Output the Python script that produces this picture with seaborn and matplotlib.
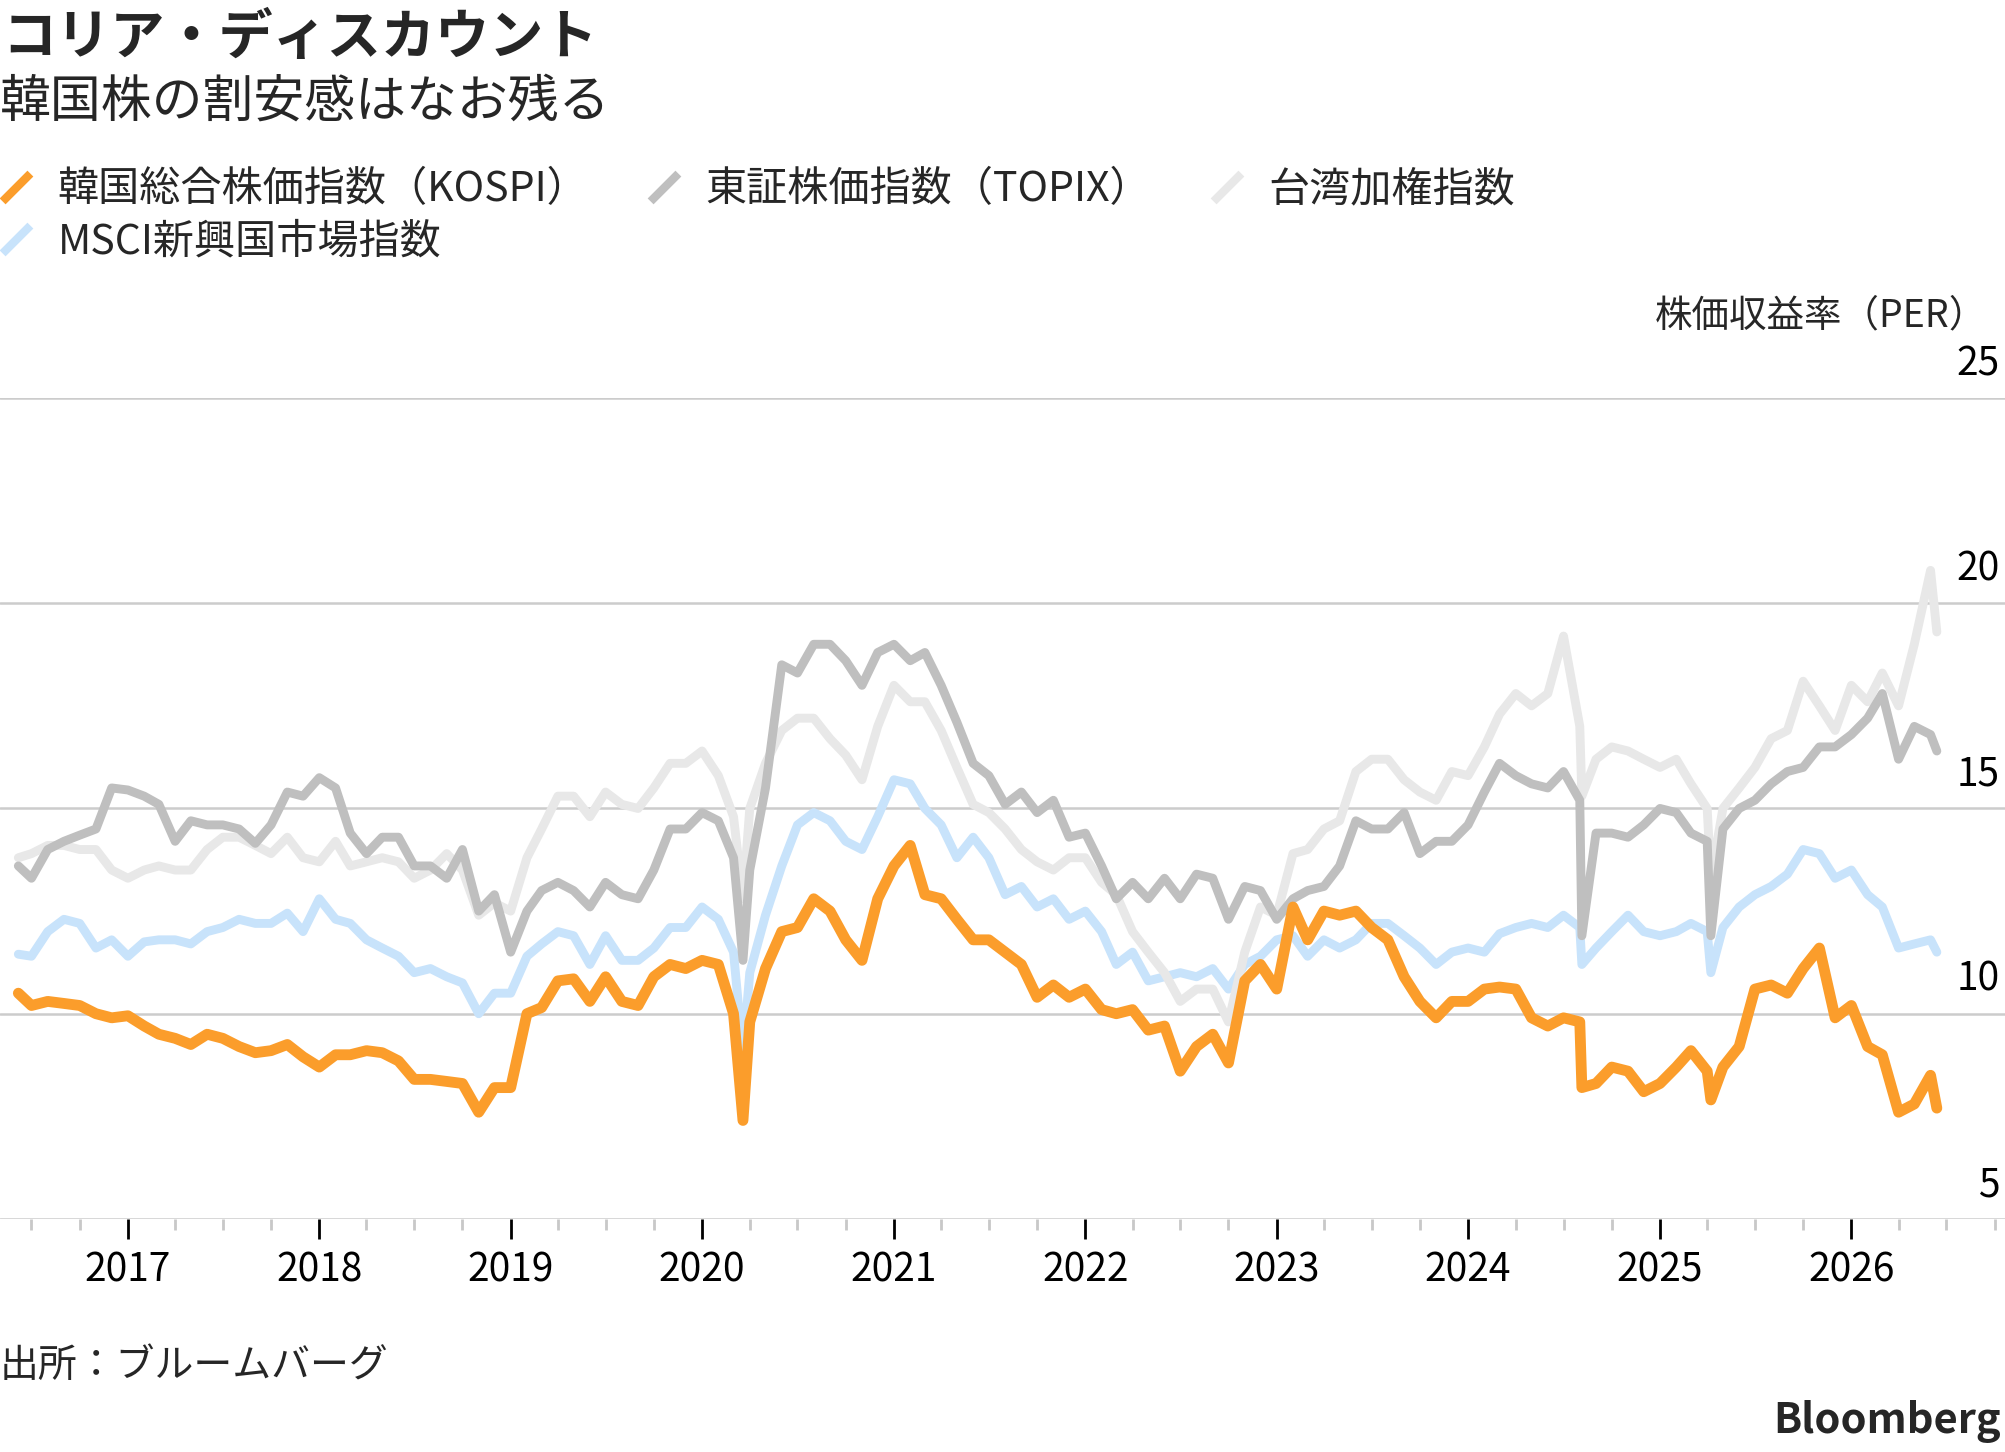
import numpy as np
import pandas as pd
import matplotlib.pyplot as plt
import matplotlib.dates as mdates
import seaborn as sns
from matplotlib.lines import Line2D
from matplotlib.path import Path
from matplotlib.transforms import ScaledTranslation

# Monthly PER readings (first of each month, Jul 2016 - Jun 2026)
months = pd.date_range("2016-07-01", "2026-06-01", freq="MS")

kospi = [
    10.2, 10.3, 10.25, 10.2, 10.0, 9.9,
    9.95, 9.7, 9.5, 9.4, 9.25, 9.5, 9.4, 9.2, 9.05, 9.1, 9.25, 8.95,
    8.7, 9.0, 9.0, 9.1, 9.05, 8.85, 8.4, 8.4, 8.35, 8.3, 7.6, 8.2,
    8.2, 10.0, 10.15, 10.8, 10.85, 10.3, 10.9, 10.3, 10.2, 10.9, 11.2, 11.1,
    11.3, 11.2, 10.0, 9.8, 11.1, 12.0, 12.1, 12.8, 12.5, 11.8, 11.3, 12.8,
    13.6, 14.1, 12.9, 12.8, 12.3, 11.8, 11.8, 11.5, 11.2, 10.4, 10.7, 10.4,
    10.6, 10.1, 10.0, 10.1, 9.6, 9.7, 8.6, 9.2, 9.5, 8.8, 10.8, 11.2,
    10.6, 12.6, 11.8, 12.5, 12.4, 12.5, 12.1, 11.8, 10.9, 10.3, 9.9, 10.3,
    10.3, 10.6, 10.65, 10.6, 9.9, 9.7, 9.9, 9.8, 8.3, 8.7, 8.6, 8.1,
    8.3, 8.7, 9.1, 8.6, 8.7, 9.2, 10.6, 10.7, 10.5, 11.1, 11.6, 9.9,
    10.2, 9.2, 9.0, 7.6, 7.8, 8.5,
]
topix = [
    13.3, 14.0, 14.2, 14.35, 14.5, 15.5,
    15.45, 15.3, 15.1, 14.2, 14.7, 14.6, 14.6, 14.5, 14.15, 14.6, 15.4, 15.3,
    15.75, 15.5, 14.4, 13.9, 14.3, 14.3, 13.6, 13.6, 13.3, 14.0, 12.5, 12.9,
    11.5, 12.5, 13.0, 13.2, 13.0, 12.6, 13.2, 12.9, 12.8, 13.5, 14.5, 14.5,
    14.9, 14.7, 13.8, 13.5, 15.5, 18.5, 18.3, 19.0, 19.0, 18.6, 18.0, 18.8,
    19.0, 18.6, 18.8, 18.0, 17.1, 16.1, 15.8, 15.1, 15.4, 14.9, 15.2, 14.3,
    14.4, 13.6, 12.8, 13.2, 12.8, 13.3, 12.8, 13.4, 13.3, 12.3, 13.1, 13.0,
    12.3, 12.8, 13.0, 13.1, 13.6, 14.7, 14.5, 14.5, 14.9, 13.9, 14.2, 14.2,
    14.6, 15.4, 16.1, 15.8, 15.6, 15.5, 15.9, 15.2, 14.4, 14.4, 14.3, 14.6,
    15.0, 14.9, 14.4, 14.2, 14.5, 15.0, 15.2, 15.6, 15.9, 16.0, 16.5, 16.5,
    16.8, 17.2, 17.8, 16.2, 17.0, 16.8,
]
taiex = [
    13.9, 14.1, 14.1, 14.0, 14.0, 13.5,
    13.3, 13.5, 13.6, 13.5, 13.5, 14.0, 14.3, 14.3, 14.1, 13.9, 14.3, 13.8,
    13.7, 14.2, 13.6, 13.7, 13.8, 13.7, 13.3, 13.5, 13.9, 13.5, 12.4, 12.7,
    12.5, 13.8, 14.5, 15.3, 15.3, 14.8, 15.4, 15.1, 15.0, 15.5, 16.1, 16.1,
    16.4, 15.8, 14.8, 15.0, 16.1, 16.9, 17.2, 17.2, 16.7, 16.3, 15.7, 17.0,
    18.0, 17.6, 17.6, 16.9, 16.0, 15.1, 14.9, 14.5, 14.0, 13.7, 13.5, 13.8,
    13.8, 13.2, 12.9, 12.0, 11.5, 11.0, 10.3, 10.6, 10.6, 9.8, 11.5, 12.6,
    12.4, 13.9, 14.0, 14.5, 14.7, 15.9, 16.2, 16.2, 15.7, 15.4, 15.2, 15.9,
    15.8, 16.5, 17.3, 17.8, 17.5, 17.8, 19.2, 17.0, 16.2, 16.5, 16.4, 16.2,
    16.0, 16.2, 15.6, 15.0, 15.0, 15.5, 16.0, 16.7, 16.9, 18.1, 17.5, 16.9,
    18.0, 17.6, 18.3, 17.5, 19.0, 20.8,
]
msci = [
    11.4, 12.0, 12.3, 12.2, 11.6, 11.8,
    11.4, 11.75, 11.8, 11.8, 11.7, 12.0, 12.1, 12.3, 12.2, 12.2, 12.45, 12.0,
    12.8, 12.3, 12.2, 11.8, 11.6, 11.4, 11.0, 11.1, 10.9, 10.75, 10.0, 10.5,
    10.5, 11.4, 11.7, 12.0, 11.9, 11.2, 11.9, 11.3, 11.3, 11.6, 12.1, 12.1,
    12.6, 12.3, 11.5, 11.0, 12.4, 13.6, 14.6, 14.9, 14.7, 14.2, 14.0, 14.8,
    15.7, 15.6, 15.0, 14.6, 13.8, 14.3, 13.8, 12.9, 13.1, 12.6, 12.8, 12.3,
    12.5, 12.0, 11.2, 11.5, 10.8, 10.9, 11.0, 10.9, 11.1, 10.6, 11.2, 11.4,
    11.8, 11.9, 11.4, 11.8, 11.6, 11.8, 12.2, 12.2, 11.9, 11.6, 11.2, 11.5,
    11.6, 11.5, 11.95, 12.1, 12.2, 12.1, 12.4, 12.1, 11.6, 12.0, 12.4, 12.0,
    11.9, 12.0, 12.2, 12.0, 12.1, 12.6, 12.9, 13.1, 13.4, 14.0, 13.9, 13.3,
    13.5, 12.9, 12.6, 11.6, 11.7, 11.8,
]

# start/end points and the sharp sell-off days
extra_dates = ["2016-06-06", "2020-03-19", "2024-08-05", "2025-04-08", "2026-06-13"]
extra_kospi = [10.5, 7.4, 8.2, 7.9, 7.7]
extra_topix = [13.6, 11.3, 11.9, 11.9, 16.4]
extra_taiex = [13.8, 12.8, 15.3, 13.3, 19.3]
extra_msci = [11.45, 9.0, 11.2, 11.0, 11.5]

labels = ["韓国総合株価指数（KOSPI）", "東証株価指数（TOPIX）", "台湾加権指数", "MSCI新興国市場指数"]
colors = ["#fb9d2b", "#bfbfbf", "#e8e8e8", "#c8e3fb"]
year_ticks = ["2017", "2018", "2019", "2020", "2021", "2022", "2023", "2024", "2025", "2026"]
y_ticks = [5, 10, 15, 20, 25]

df = pd.concat([
    pd.DataFrame({"date": months, "kospi": kospi, "topix": topix, "taiex": taiex, "msci": msci}),
    pd.DataFrame({"date": pd.to_datetime(extra_dates), "kospi": extra_kospi, "topix": extra_topix,
                  "taiex": extra_taiex, "msci": extra_msci}),
]).sort_values("date").reset_index(drop=True)

sns.set_theme(style="white")
plt.rcParams["font.family"] = ["Noto Sans CJK JP", "DejaVu Sans"]

fig = plt.figure(figsize=(10.025, 7.26), dpi=200)
ax = fig.add_axes([0, 0.1605, 1, 0.5654])

# draw light series first, KOSPI on top
series = [("msci", colors[3], 3.2), ("taiex", colors[2], 3.2), ("topix", colors[1], 3.2), ("kospi", colors[0], 3.9)]
for col, c, lw in series:
    sns.lineplot(data=df, x="date", y=col, ax=ax, color=c, linewidth=lw, legend=False)

ax.set_xlim(pd.Timestamp("2016-05-02"), pd.Timestamp("2026-10-21"))
ax.set_ylim(5, 25)
ax.set_xlabel("")
ax.set_ylabel("")
for s in ax.spines.values():
    s.set_visible(False)

ax.set_yticks(y_ticks)
ax.grid(axis="y", color="#cccccc", linewidth=0.9)
ax.grid(axis="x", visible=False)
ax.set_axisbelow(True)
ax.yaxis.tick_right()
ax.tick_params(axis="y", length=0, pad=-2, labelsize=14, labelright=True, labelleft=False, labelcolor="black")
shift = ScaledTranslation(0, 5 / 72, fig.dpi_scale_trans)
for lbl in ax.get_yticklabels():
    lbl.set_ha("right")
    lbl.set_va("bottom")
    lbl.set_transform(lbl.get_transform() + shift)

ax.set_xticks(pd.to_datetime([y + "-01-01" for y in year_ticks]))
ax.set_xticklabels(year_ticks)
ax.xaxis.set_minor_locator(mdates.MonthLocator(bymonth=[4, 7, 10]))
ax.tick_params(axis="x", which="major", bottom=True, direction="out", length=7.2, width=1.0,
               color="black", labelsize=14, pad=4, labelcolor="black")
ax.tick_params(axis="x", which="minor", bottom=True, direction="out", length=4.0, width=1.0, color="#c8c8c8")

# legend with slash markers
slash = Path([(-1, -1), (1, 1)], [Path.MOVETO, Path.LINETO])
handles = [Line2D([], [], linestyle="None", marker=slash, markersize=10, markeredgewidth=3,
                  markeredgecolor=c, markerfacecolor=c) for c in colors]
order = [0, 3, 1, 2]
fig.legend([handles[i] for i in order], [labels[i] for i in order], ncol=3,
           loc="upper left", bbox_to_anchor=(0.0, 0.8835), frameon=False, fontsize=14.8,
           handlelength=0.8, handletextpad=0.6, columnspacing=1.45, labelspacing=0.28,
           borderpad=0, borderaxespad=0)

fig.text(0.001, 0.9735, "コリア・ディスカウント", fontsize=19.5, fontweight="bold", va="center", ha="left")
fig.text(0.0, 0.9295, "韓国株の割安感はなお残る", fontsize=18.3, va="center", ha="left")
fig.text(0.991, 0.7824, "株価収益率（PER）", fontsize=13.5, va="center", ha="right")
fig.text(0.0, 0.0592, "出所：ブルームバーグ", fontsize=14, va="center", ha="left")
fig.text(0.998, 0.0207, "Bloomberg", fontsize=15, fontweight="bold", va="center", ha="right")

fig.savefig("out.png", dpi=200, facecolor="white")
